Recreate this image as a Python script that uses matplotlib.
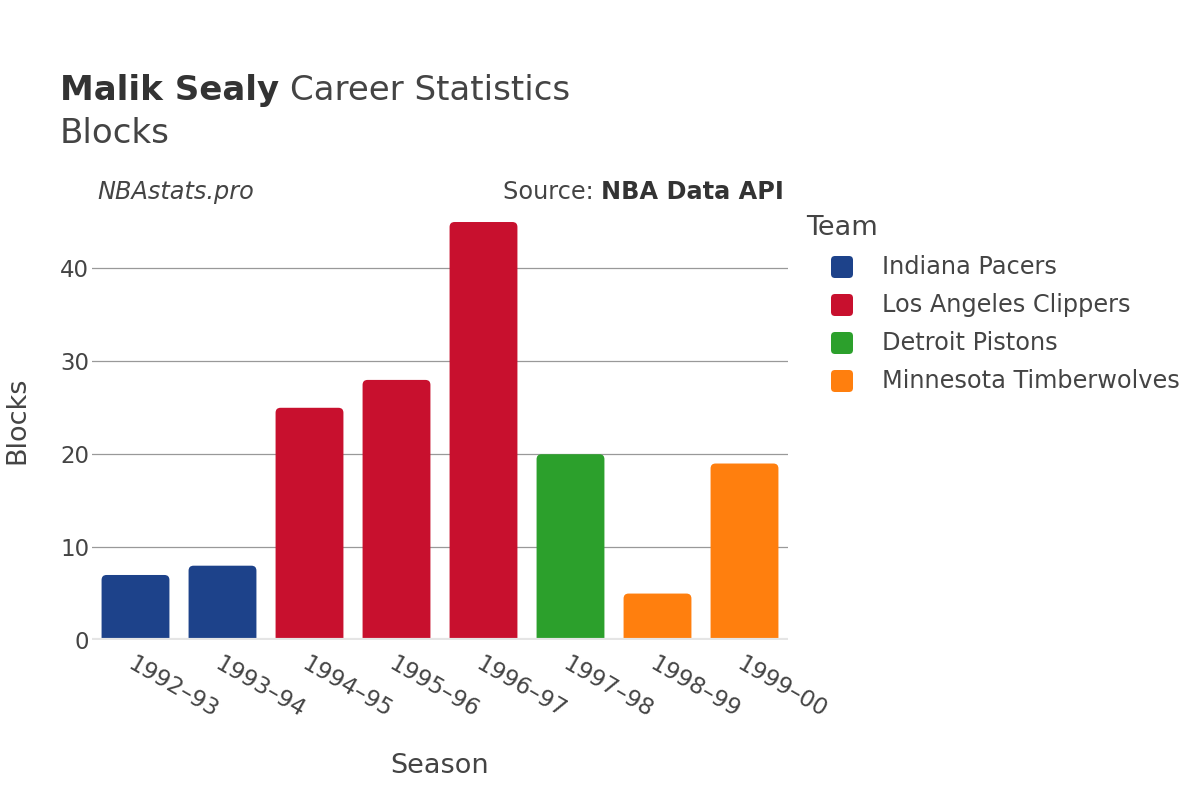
import matplotlib
matplotlib.use("Agg")
import matplotlib.pyplot as plt
from matplotlib.patches import FancyBboxPatch

seasons = ["1992–93", "1993–94", "1994–95", "1995–96", "1996–97", "1997–98", "1998–99", "1999–00"]
blocks = [7, 8, 25, 28, 45, 20, 5, 19]
teams = ["Indiana Pacers", "Indiana Pacers", "Los Angeles Clippers", "Los Angeles Clippers",
         "Los Angeles Clippers", "Detroit Pistons", "Minnesota Timberwolves", "Minnesota Timberwolves"]
team_order = ["Indiana Pacers", "Los Angeles Clippers", "Detroit Pistons", "Minnesota Timberwolves"]
team_colors = {"Indiana Pacers": "#1d428a", "Los Angeles Clippers": "#c8102e",
               "Detroit Pistons": "#2ca02c", "Minnesota Timberwolves": "#ff7f0e"}

plt.rcParams['font.family'] = ['DejaVu Sans']
W, H = 1200, 800
fig = plt.figure(figsize=(12, 8), dpi=100)
ax_l, ax_r = 92, 788
ax = fig.add_axes([ax_l / W, 0.2, (ax_r - ax_l) / W, 0.55])

x = list(range(len(seasons)))
ymax = 47.37
bars = ax.bar(x, blocks, width=0.78, color=[team_colors[t] for t in teams], zorder=3)
ax.set_xlim(-0.5, len(seasons) - 0.5)
ax.set_ylim(0, ymax)

# replace bars with rounded-corner versions
px_per_x = (ax_r - ax_l) / len(seasons)
px_per_y = 440 / ymax
aspect = px_per_x / px_per_y
r = 5 / px_per_x
for b in bars:
    b.set_visible(False)
    p = FancyBboxPatch((b.get_x() + r, -2 + r * aspect), b.get_width() - 2 * r,
                       b.get_height() + 2 - 2 * r * aspect,
                       boxstyle=f"round,pad={r},rounding_size={r}", mutation_aspect=aspect,
                       facecolor=b.get_facecolor(), edgecolor='none', zorder=3)
    p.set_clip_box(ax.bbox)
    ax.add_patch(p)

ax.set_yticks([0, 10, 20, 30, 40])
ax.set_xticks(x)
ax.set_xticklabels(seasons, rotation=-30, ha='left', va='top', rotation_mode='anchor')
ax.tick_params(axis='x', length=0, pad=9, labelsize=16.7, labelcolor='#444444')
ax.tick_params(axis='y', length=0, pad=2, labelsize=16.5, labelcolor='#444444')
ax.grid(axis='y', color='#999999', linewidth=0.9, zorder=0)
for s in ax.spines.values():
    s.set_visible(False)
ax.axhline(0, color='#e5e5e5', linewidth=3, zorder=4)
ax.yaxis.get_gridlines()[0].set_visible(False)

ax.set_xlabel("Season", fontsize=19.5, color='#444444', labelpad=22)
ax.set_ylabel("Blocks", fontsize=19.5, color='#444444', ha='center', va='center')
ax.yaxis.set_label_coords((17 - ax_l) / (ax_r - ax_l), 0.5)

fig.canvas.draw()
renderer = fig.canvas.get_renderer()

t1 = fig.text(60 / W, 1 - 100 / H, "Malik Sealy", fontsize=24.5, fontweight='bold', color='#333333',
              va='baseline')
bb = t1.get_window_extent(renderer)
fig.text(bb.x1 / W + 0.009, 1 - 100 / H, "Career Statistics", fontsize=24.5, color='#444444', va='baseline')
fig.text(60 / W, 1 - 143 / H, "Blocks", fontsize=24.5, color='#444444', va='baseline')
fig.text(97 / W, 1 - 199 / H, "NBAstats.pro", fontsize=17.3, style='italic', color='#444444', va='baseline')
src = fig.text(784 / W, 1 - 199 / H, "NBA Data API", fontsize=17.3, fontweight='bold', color='#333333',
               va='baseline', ha='right')
bb = src.get_window_extent(renderer)
fig.text(bb.x0 / W, 1 - 199 / H, "Source: ", fontsize=17.3, color='#444444', va='baseline', ha='right')

# legend (drawn manually)
fig.text(806 / W, 1 - 228 / H, "Team", fontsize=19.5, color='#444444', va='center', ha='left')
for i, t in enumerate(team_order):
    cy = 267 + 38 * i
    s = 22
    fig.patches.append(FancyBboxPatch(((842 - s / 2) / W, 1 - (cy + s / 2) / H), s / W, s / H,
                                      boxstyle=f"round,pad=0,rounding_size={4 / W}",
                                      mutation_aspect=W / H,
                                      transform=fig.transFigure, facecolor=team_colors[t],
                                      edgecolor='none', figure=fig))
    fig.text(882 / W, 1 - cy / H, t, fontsize=17.3, color='#444444', va='center', ha='left')

fig.savefig("out.png", dpi=100, facecolor='white')
